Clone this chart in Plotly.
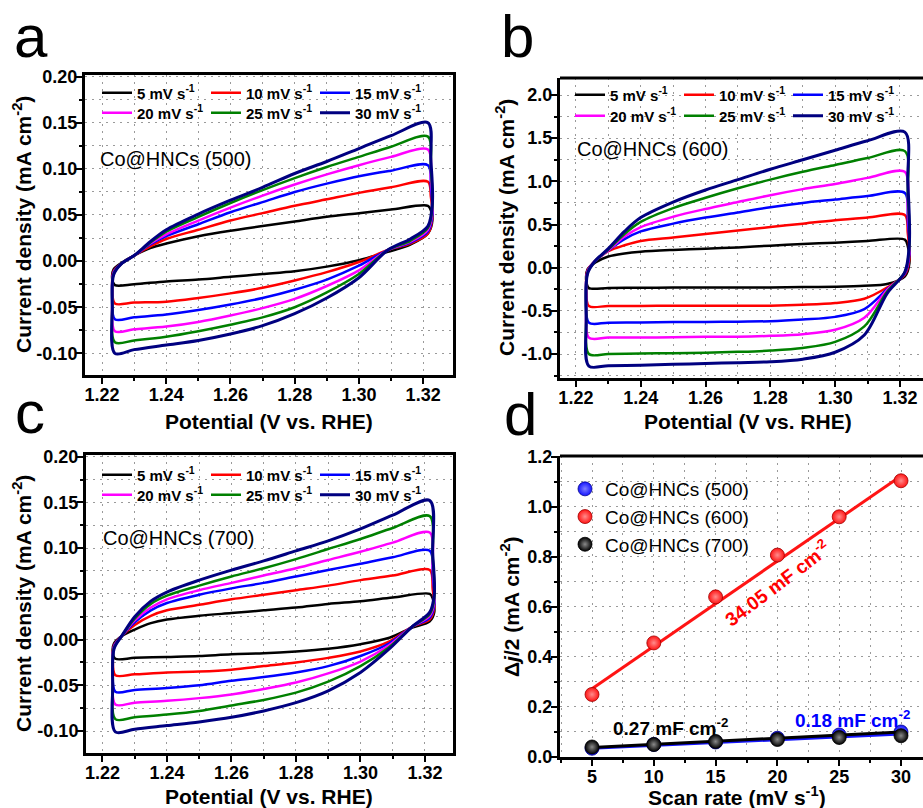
import plotly.graph_objects as go

# ---------------- data ----------------
RATES = ["5", "10", "15", "20", "25", "30"]
COLORS = ["#000000", "#ff0000", "#0000ff", "#ff00ff", "#008000", "#000080"]

# potential along one CV loop (forward sweep then reverse sweep), V vs. RHE
POTENTIAL = [1.2240, 1.2232, 1.2236, 1.2260, 1.2300, 1.2350, 1.2400, 1.2500, 1.2600, 1.2700,
             1.2800, 1.2900, 1.3000, 1.3100, 1.3215,
             1.3224, 1.3229, 1.3215, 1.3160, 1.3090, 1.3000, 1.2900, 1.2800, 1.2700, 1.2600,
             1.2500, 1.2400, 1.2300, 1.2240]

# Co@HNCs (500), mA cm-2
J500_5 = [-0.026, -0.020, -0.009, -0.002, 0.006, 0.014, 0.019, 0.027, 0.033, 0.038, 0.043, 0.048, 0.052, 0.056, 0.060,
          0.055, 0.045, 0.030, 0.018, 0.010, 0.001, -0.006, -0.011, -0.014, -0.017, -0.020, -0.022, -0.025, -0.026]
J500_10 = [-0.046, -0.030, -0.011, -0.003, 0.006, 0.016, 0.024, 0.034, 0.044, 0.052, 0.060, 0.067, 0.074, 0.080, 0.086,
           0.070, 0.048, 0.030, 0.019, 0.012, -0.001, -0.012, -0.021, -0.029, -0.035, -0.040, -0.044, -0.045, -0.046]
J500_15 = [-0.063, -0.036, -0.012, -0.003, 0.006, 0.018, 0.027, 0.040, 0.053, 0.064, 0.075, 0.084, 0.092, 0.098, 0.104,
           0.080, 0.050, 0.032, 0.020, 0.012, -0.005, -0.020, -0.031, -0.040, -0.047, -0.053, -0.058, -0.061, -0.063]
J500_20 = [-0.076, -0.041, -0.013, -0.003, 0.006, 0.019, 0.029, 0.044, 0.058, 0.071, 0.083, 0.094, 0.104, 0.113, 0.121,
           0.090, 0.055, 0.034, 0.021, 0.012, -0.010, -0.027, -0.041, -0.051, -0.059, -0.066, -0.071, -0.074, -0.076]
J500_25 = [-0.088, -0.046, -0.014, -0.003, 0.006, 0.020, 0.032, 0.048, 0.063, 0.077, 0.090, 0.102, 0.113, 0.124, 0.135,
           0.100, 0.060, 0.036, 0.022, 0.012, -0.014, -0.034, -0.050, -0.061, -0.069, -0.076, -0.082, -0.086, -0.088]
J500_30 = [-0.100, -0.052, -0.015, -0.003, 0.006, 0.021, 0.034, 0.051, 0.066, 0.080, 0.095, 0.108, 0.122, 0.136, 0.150,
           0.110, 0.065, 0.038, 0.024, 0.012, -0.018, -0.040, -0.057, -0.070, -0.079, -0.086, -0.091, -0.096, -0.100]

# Co@HNCs (600)
J600_5 = [-0.235, -0.15, -0.02, 0.06, 0.13, 0.165, 0.185, 0.205, 0.22, 0.235, 0.255, 0.275, 0.29, 0.31, 0.325,
          0.25, 0.05, -0.10, -0.19, -0.21, -0.22, -0.225, -0.23, -0.23, -0.23, -0.23, -0.233, -0.235, -0.235]
J600_10 = [-0.444, -0.25, -0.03, 0.08, 0.19, 0.26, 0.31, 0.35, 0.39, 0.43, 0.47, 0.51, 0.55, 0.58, 0.61,
           0.40, 0.10, -0.08, -0.23, -0.36, -0.41, -0.43, -0.44, -0.44, -0.44, -0.44, -0.444, -0.444, -0.444]
J600_15 = [-0.637, -0.35, -0.04, 0.08, 0.20, 0.33, 0.42, 0.51, 0.58, 0.64, 0.70, 0.75, 0.79, 0.83, 0.865,
           0.55, 0.15, -0.07, -0.25, -0.48, -0.57, -0.60, -0.62, -0.625, -0.63, -0.63, -0.635, -0.637, -0.637]
J600_20 = [-0.81, -0.45, -0.05, 0.08, 0.20, 0.36, 0.47, 0.59, 0.68, 0.76, 0.84, 0.91, 0.97, 1.04, 1.11,
           0.70, 0.20, -0.06, -0.26, -0.58, -0.72, -0.77, -0.79, -0.80, -0.80, -0.805, -0.81, -0.81, -0.81]
J600_25 = [-1.00, -0.55, -0.06, 0.08, 0.21, 0.39, 0.53, 0.69, 0.81, 0.92, 1.02, 1.11, 1.19, 1.27, 1.35,
           0.85, 0.25, -0.05, -0.28, -0.68, -0.86, -0.93, -0.96, -0.975, -0.985, -0.99, -0.995, -1.00, -1.00]
J600_30 = [-1.14, -0.62, -0.07, 0.08, 0.22, 0.42, 0.58, 0.76, 0.90, 1.02, 1.14, 1.25, 1.36, 1.47, 1.57,
           1.00, 0.30, -0.05, -0.30, -0.78, -0.98, -1.06, -1.09, -1.10, -1.11, -1.12, -1.13, -1.135, -1.14]

# Co@HNCs (700)
J700_5 = [-0.021, -0.014, -0.004, 0.004, 0.011, 0.018, 0.022, 0.026, 0.029, 0.032, 0.035, 0.039, 0.042, 0.046, 0.050,
          0.045, 0.030, 0.020, 0.013, 0.002, -0.005, -0.010, -0.013, -0.015, -0.016, -0.018, -0.019, -0.020, -0.021]
J700_10 = [-0.039, -0.022, -0.006, 0.004, 0.016, 0.026, 0.032, 0.038, 0.044, 0.049, 0.054, 0.059, 0.065, 0.070, 0.076,
           0.055, 0.035, 0.022, 0.014, -0.002, -0.013, -0.020, -0.025, -0.029, -0.033, -0.035, -0.036, -0.038, -0.039]
J700_15 = [-0.057, -0.030, -0.007, 0.004, 0.019, 0.032, 0.040, 0.049, 0.056, 0.062, 0.069, 0.076, 0.083, 0.090, 0.097,
           0.070, 0.038, 0.024, 0.014, -0.004, -0.018, -0.029, -0.036, -0.041, -0.045, -0.050, -0.053, -0.055, -0.057]
J700_20 = [-0.071, -0.036, -0.008, 0.004, 0.021, 0.035, 0.044, 0.054, 0.062, 0.070, 0.078, 0.087, 0.096, 0.106, 0.117,
           0.080, 0.042, 0.026, 0.014, -0.006, -0.024, -0.037, -0.047, -0.054, -0.060, -0.064, -0.067, -0.069, -0.071]
J700_25 = [-0.087, -0.043, -0.009, 0.004, 0.023, 0.039, 0.048, 0.059, 0.069, 0.078, 0.088, 0.099, 0.110, 0.122, 0.135,
           0.090, 0.045, 0.028, 0.014, -0.008, -0.029, -0.046, -0.058, -0.066, -0.072, -0.078, -0.082, -0.085, -0.087]
J700_30 = [-0.101, -0.050, -0.010, 0.004, 0.025, 0.042, 0.052, 0.065, 0.076, 0.086, 0.097, 0.108, 0.121, 0.136, 0.152,
           0.095, 0.050, 0.030, 0.014, -0.010, -0.036, -0.056, -0.069, -0.078, -0.085, -0.090, -0.094, -0.098, -0.101]

# panel d
SCAN_RATE = [5, 10, 15, 20, 25, 30]
DJ_500 = [0.035, 0.050, 0.060, 0.075, 0.088, 0.100]
DJ_600 = [0.250, 0.456, 0.640, 0.807, 0.960, 1.104]
DJ_700 = [0.040, 0.050, 0.062, 0.070, 0.078, 0.085]
FIT_X = [5, 30]
FIT_500 = [0.035, 0.092]
FIT_600 = [0.273, 1.123]
FIT_700 = [0.038, 0.100]

# tick labels
CV_X_TICKS = [1.22, 1.24, 1.26, 1.28, 1.30, 1.32]
CV_X_TEXT = ["1.22", "1.24", "1.26", "1.28", "1.30", "1.32"]
AC_Y_TICKS = [-0.10, -0.05, 0.00, 0.05, 0.10, 0.15, 0.20]
AC_Y_TEXT = ["-0.10", "-0.05", "0.00", "0.05", "0.10", "0.15", "0.20"]
B_Y_TICKS = [-1.0, -0.5, 0.0, 0.5, 1.0, 1.5, 2.0]
B_Y_TEXT = ["-1.0", "-0.5", "0.0", "0.5", "1.0", "1.5", "2.0"]
D_X_TICKS = [5, 10, 15, 20, 25, 30]
D_X_TEXT = ["5", "10", "15", "20", "25", "30"]
D_Y_TICKS = [0.0, 0.2, 0.4, 0.6, 0.8, 1.0, 1.2]
D_Y_TEXT = ["0.0", "0.2", "0.4", "0.6", "0.8", "1.0", "1.2"]

# ---------------- figure ----------------
W, H = 923, 808
FONT = "Liberation Sans, Arial, sans-serif"


def px(x):
    return x / W


def py(y):
    return 1 - y / H


fig = go.Figure()

panels = [
    ("x", "y", [J500_5, J500_10, J500_15, J500_20, J500_25, J500_30], ("legend", "legend2")),
    ("x2", "y2", [J600_5, J600_10, J600_15, J600_20, J600_25, J600_30], ("legend3", "legend4")),
    ("x3", "y3", [J700_5, J700_10, J700_15, J700_20, J700_25, J700_30], ("legend5", "legend6")),
]
for xa, ya, curves, legs in panels:
    for i, (rate, col, cur) in enumerate(zip(RATES, COLORS, curves)):
        fig.add_trace(go.Scatter(
            x=POTENTIAL, y=cur, mode="lines", xaxis=xa, yaxis=ya,
            line=dict(color=col, width=3 if i == 5 else 2.5, shape="spline", smoothing=0.9),
            name=f"{rate} mV s<sup>-1</sup>", legend=legs[0] if i < 3 else legs[1],
            showlegend=True,
        ))

# panel d
d_series = [
    ("Co@HNCs (500)", DJ_500, FIT_500, "#1414ff", "#7f7fff", "#00008c", 1),
    ("Co@HNCs (700)", DJ_700, FIT_700, "#000000", "#8a8a8a", "#000000", 3),
    ("Co@HNCs (600)", DJ_600, FIT_600, "#ff1414", "#ff8c8c", "#a00000", 2),
]
for name, ys, fit, col, hi, edge, rank in d_series:
    fig.add_trace(go.Scatter(x=FIT_X, y=fit, mode="lines", xaxis="x4", yaxis="y4",
                             line=dict(color=col, width=3), showlegend=False, hoverinfo="skip"))
    fig.add_trace(go.Scatter(
        x=SCAN_RATE, y=ys, mode="markers", xaxis="x4", yaxis="y4", name=name,
        legend="legend7", legendrank=rank,
        marker=dict(size=14, color=col, line=dict(color=edge, width=0.8),
                    gradient=dict(type="radial", color=hi)),
    ))

GRID = dict(showgrid=True, gridcolor="#9a9a9a", griddash="2px,5px", gridwidth=1)
TICKFONT = dict(family=FONT, size=18, color="black", weight="bold")


def axis(domain, rng, anchor, tickvals, ticktext, minor_dtick, minor_tick0, mirror):
    d = dict(domain=domain, range=rng, anchor=anchor, tickmode="array", tickvals=tickvals,
             ticktext=ticktext, ticks="outside", ticklen=6, tickwidth=2, tickcolor="black",
             showline=True, linewidth=3, linecolor="black", mirror=mirror, zeroline=False,
             tickfont=TICKFONT, fixedrange=True, automargin=False, ticklabelstandoff=-5,
             minor=dict(tickmode="linear", dtick=minor_dtick, tick0=minor_tick0, ticks="outside",
                        ticklen=3, tickwidth=2, tickcolor="black", **GRID),
             **GRID)
    return d


dom_ax = [px(85), px(453)]
dom_ay = [py(375), py(75)]
dom_bx = [px(560), 1.0]
dom_by = [py(378), py(78)]
dom_cx = [px(86), px(453)]
dom_cy = [py(753), py(455)]
dom_dx = [px(560), 1.0]
dom_dy = [py(757), py(456)]

fig.update_layout(
    width=W, height=H, margin=dict(l=0, r=0, t=0, b=0, autoexpand=False),
    paper_bgcolor="white", plot_bgcolor="white",
    font=dict(family=FONT, color="black"),
    xaxis=axis(dom_ax, [1.2147, 1.3293], "y", CV_X_TICKS, CV_X_TEXT, 0.01, 1.21, True),
    yaxis=axis(dom_ay, [-0.1235, 0.2018], "x", AC_Y_TICKS, AC_Y_TEXT, 0.025, 0, True),
    xaxis2=axis(dom_bx, [1.2151, 1.3271], "y2", CV_X_TICKS, CV_X_TEXT, 0.01, 1.21, False),
    yaxis2=axis(dom_by, [-1.278, 2.197], "x2", B_Y_TICKS, B_Y_TEXT, 0.25, 0, False),
    xaxis3=axis(dom_cx, [1.2149, 1.3287], "y3", CV_X_TICKS, CV_X_TEXT, 0.01, 1.21, True),
    yaxis3=axis(dom_cy, [-0.124, 0.2018], "x3", AC_Y_TICKS, AC_Y_TEXT, 0.025, 0, True),
    xaxis4=axis(dom_dx, [2.41, 31.78], "y4", D_X_TICKS, D_X_TEXT, 2.5, 0, False),
    yaxis4=axis(dom_dy, [0.0, 1.203], "x4", D_Y_TICKS, D_Y_TEXT, 0.1, 0, False),
)

# top frame lines for panels b, d (right edge is cut by the image border)
for xa, ya in (("x2", "y2"), ("x4", "y4")):
    fig.add_shape(type="line", xref=f"{xa} domain", yref=f"{ya} domain", x0=0, x1=1, y0=1, y1=1,
                  line=dict(color="black", width=3), layer="above")


def cv_legend(x, y):
    return dict(orientation="h", x=px(x), y=py(y), xanchor="left", yanchor="middle",
                bgcolor="rgba(0,0,0,0)", borderwidth=0, entrywidth=64, entrywidthmode="pixels",
                itemwidth=30, font=dict(family=FONT, size=15, color="black", weight="bold"))


fig.update_layout(
    legend=cv_legend(97, 93), legend2=cv_legend(97, 113),
    legend3=cv_legend(570, 95), legend4=cv_legend(570, 116),
    legend5=cv_legend(97, 475), legend6=cv_legend(97, 495),
    legend7=dict(orientation="v", x=px(565), y=py(470), xanchor="left", yanchor="top",
                 bgcolor="rgba(0,0,0,0)", tracegroupgap=0, itemwidth=30,
                 font=dict(family=FONT, size=19, color="black")),
)

ann = []
# panel letters
for t, x, y in (("a", 31, 36), ("b", 517, 36), ("c", 30, 412), ("d", 520, 414)):
    ann.append(dict(text=t, x=px(x), y=py(y), xref="paper", yref="paper", showarrow=False,
                    xanchor="center", yanchor="middle", font=dict(family=FONT, size=60, color="black")))
# axis titles
TITLE_FONT = dict(family=FONT, size=21, color="black", weight="bold")
ytitle = "Current density (mA cm<sup>-2</sup>)"
xtitle = "Potential (V vs. RHE)"
for t, x, y, ang in ((ytitle, 22, 225, -90), (ytitle, 505, 228, -90), (ytitle, 22, 604, -90),
                     ("Δ<i>j</i>/2 (mA cm<sup>-2</sup>)", 510, 606, -90),
                     (xtitle, 269, 421, 0), (xtitle, 748, 421, 0), (xtitle, 269, 796, 0),
                     ("Scan rate (mV s<sup>-1</sup>)", 737, 796, 0)):
    ann.append(dict(text=t, x=px(x), y=py(y), xref="paper", yref="paper", showarrow=False,
                    xanchor="center", yanchor="middle", textangle=ang, font=TITLE_FONT))
# sample names
for t, x, y in (("Co@HNCs (500)", 175, 159), ("Co@HNCs (600)", 652, 149), ("Co@HNCs (700)", 178, 538)):
    ann.append(dict(text=t, x=px(x), y=py(y), xref="paper", yref="paper", showarrow=False,
                    xanchor="center", yanchor="middle", font=dict(family=FONT, size=20, color="black")))
# slopes
for t, x, y, col, ang in (("34.05 mF cm<sup>-2</sup>", 777, 583, "#ff0000", -37),
                          ("0.27 mF cm<sup>-2</sup>", 670, 727, "#000000", 0),
                          ("0.18 mF cm<sup>-2</sup>", 852, 719, "#0000ff", 0)):
    ann.append(dict(text=t, x=px(x), y=py(y), xref="paper", yref="paper", showarrow=False,
                    xanchor="center", yanchor="middle", textangle=ang,
                    font=dict(family=FONT, size=19, color=col, weight="bold")))
fig.update_layout(annotations=ann)

fig.write_html("out.html")
